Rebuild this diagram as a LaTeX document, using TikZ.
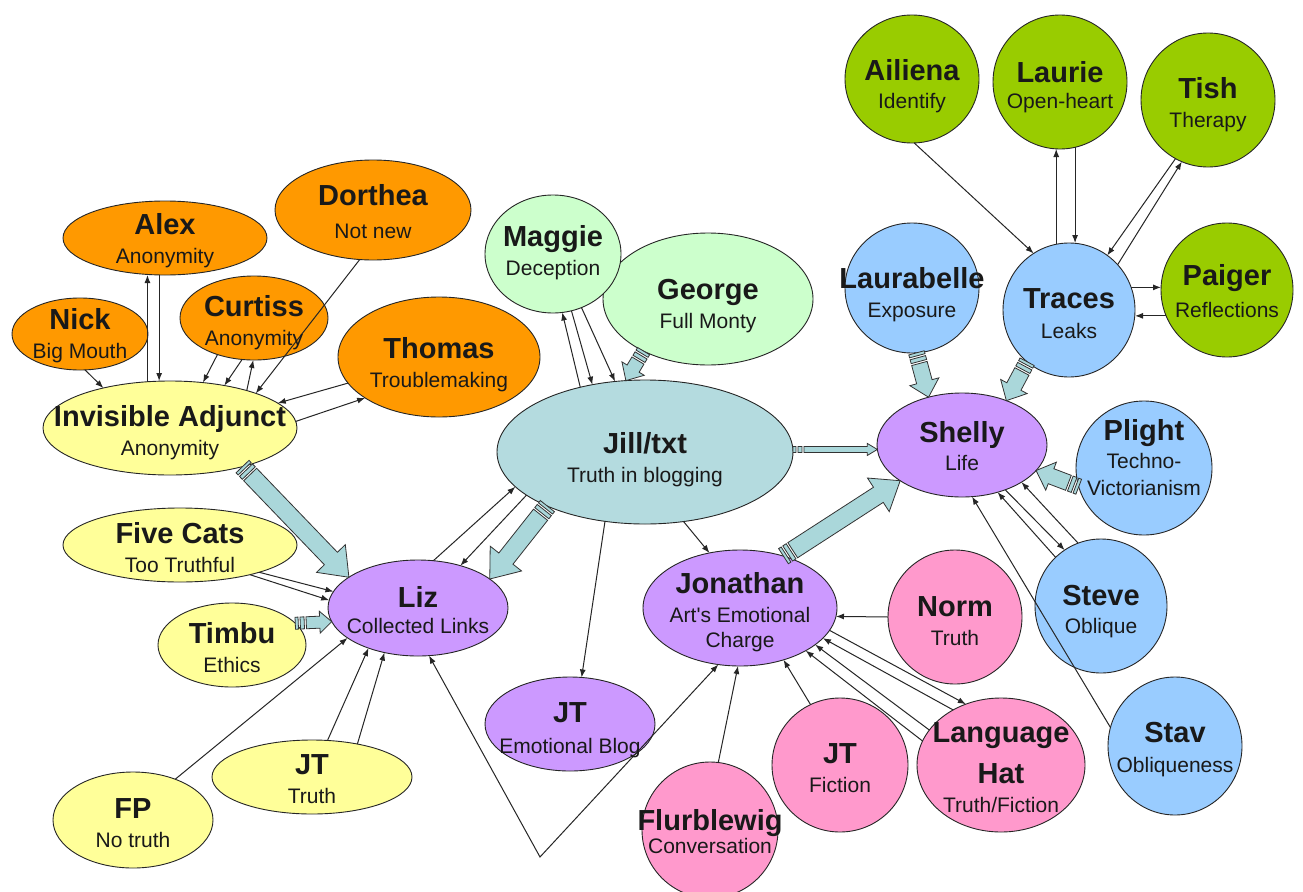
\documentclass[tikz,border=0pt]{standalone}
\usepackage{fontspec}
\setmainfont{Liberation Sans}
\usetikzlibrary{arrows.meta,shapes.geometric,calc}
\definecolor{corange}{RGB}{255,153,0}
\definecolor{cyellow}{RGB}{255,255,153}
\definecolor{clgreen}{RGB}{204,255,204}
\definecolor{cteal}{RGB}{180,219,223}
\definecolor{cpurple}{RGB}{204,153,255}
\definecolor{cpink}{RGB}{255,153,204}
\definecolor{cblue}{RGB}{153,204,255}
\definecolor{cgreen}{RGB}{153,204,0}
\definecolor{carrow}{RGB}{170,215,218}
\tikzset{
  person/.style={ellipse, draw=black!85, line width=0.9pt, inner sep=0pt, outer sep=0pt},
  por/.style={person, fill=corange},
  pye/.style={person, fill=cyellow},
  plg/.style={person, fill=clgreen},
  pte/.style={person, fill=cteal},
  ppu/.style={person, fill=cpurple},
  ppi/.style={person, fill=cpink},
  pbl/.style={person, fill=cblue},
  pgr/.style={person, fill=cgreen},
  txt/.style={align=center, inner sep=0pt, font=\fontsize{21}{29}\selectfont, text=black!90},
  ln/.style={draw=black!85, line width=1pt, -{Latex[length=8pt,width=6pt]}},
  lnb/.style={draw=black!85, line width=1pt, {Latex[length=8pt,width=6pt]}-{Latex[length=8pt,width=6pt]}},
  barrow/.style={fill=carrow, draw=black!80, line width=0.8pt, line join=miter},
}
\newcommand\nm[1]{{\fontsize{29}{29}\selectfont\bfseries #1}}
\newcommand\shp[6]{\node[#2, minimum width=#5*2, minimum height=#6*2] (#1) at (#3,#4) {};}
% #3 = baseline of the LAST line of the text
\newcommand\lbl[4]{\node[txt, anchor=base] (#1-t) at (#2,#3) {#4};}
\newcommand\blockarrow[5]{%
  \path (#1) coordinate (bas) (#2) coordinate (bae);
  \pgfpointdiff{\pgfpointanchor{bas}{center}}{\pgfpointanchor{bae}{center}}%
  \pgfgetlastxy{\bax}{\bay}%
  \pgfmathsetmacro\bang{atan2(\bay,\bax)}%
  \pgfmathsetmacro\blen{veclen(\bax,\bay)}%
  \begin{scope}[shift={(bas)}, rotate=\bang, x=1pt, y=1pt]
    \filldraw[barrow] (0,-#3) rectangle (3,#3);
    \filldraw[barrow] (5,-#3) rectangle (9,#3);
    \filldraw[barrow] (11,-#3) -- (\blen-#5,-#3) -- (\blen-#5,-#4) -- (\blen,0)
      -- (\blen-#5,#4) -- (\blen-#5,#3) -- (11,#3) -- cycle;
  \end{scope}
}
\begin{document}
\begin{tikzpicture}[x=1pt,y=-1pt]
\useasboundingbox (0,0) rectangle (1303,891);
\fill[white] (0,0) rectangle (1303,891);
\clip (0,0) rectangle (1303,891);
% ---------- shapes
\shp{dorthea}{por}{373}{210}{98}{50}
\shp{alex}{por}{165}{238}{102}{37}
\shp{nick}{por}{80}{334}{68}{36}
\shp{curtiss}{por}{254}{318}{74}{42}
\shp{thomas}{por}{439}{357}{101}{60}
\shp{ia}{pye}{170}{428}{127}{47}
\shp{fivecats}{pye}{180}{545}{117}{37}
\shp{timbu}{pye}{232}{645}{74}{42}
\shp{fp}{pye}{133}{820}{80}{48}
\shp{jtt}{pye}{312}{777}{100}{37}
\shp{liz}{ppu}{418}{608}{90}{48}
\shp{george}{plg}{708}{299}{105}{66}
\shp{maggie}{plg}{553}{254}{68}{59}
\shp{jill}{pte}{645}{452}{148}{72}
\shp{jtb}{ppu}{570}{724}{85}{47}
\shp{jon}{ppu}{740}{608}{97}{58}
\shp{flurb}{ppi}{710}{830}{68}{68}
\shp{jtf}{ppi}{840}{765}{68}{67}
\shp{lh}{ppi}{1001}{765}{84}{67}
\shp{norm}{ppi}{955}{617}{67}{67}
\shp{shelly}{ppu}{962}{445}{85}{52}
\shp{plight}{pbl}{1144}{468}{68}{67}
\shp{steve}{pbl}{1101}{606}{66}{67}
\shp{stav}{pbl}{1175}{746}{67}{69}
\shp{laurabelle}{pbl}{912}{288}{67}{65}
\shp{traces}{pbl}{1069}{310}{66}{67}
\shp{ailiena}{pgr}{912}{79}{67}{64}
\shp{laurie}{pgr}{1060}{82}{67}{67}
\shp{tish}{pgr}{1208}{100}{67}{67}
\shp{paiger}{pgr}{1227}{290}{66}{67}
% ---------- connectors: left cluster
\draw[ln] (nick.-82) -- (ia.149);
\draw[ln] (ia.116) -- (ia.116 |- alex.south);
\draw[ln] (alex.-99) -- (alex.-99 |- ia.north);
\draw[ln] (curtiss.-135) -- (ia.54);
\draw[ln] (curtiss.-106) -- (ia.38);
\draw[ln] (ia.26) -- (curtiss.-91);
\draw[ln] (dorthea.-105) -- (ia.22);
\draw[ln] (thomas.-164) -- (ia.13);
\draw[ln] (ia.3) -- (thomas.-151);
\blockarrow{ia.-28}{liz.156}{9}{20}{26}
\draw[ln] (fivecats.-19) -- (liz.169);
\draw[ln] (fivecats.-23) -- (liz.175);
\blockarrow{timbu.19}{liz.-171}{6}{11}{12}
\draw[ln] (fp.44) -- (liz.-157);
\draw[ln] (jtt.67) -- (liz.-141);
\draw[ln] (jtt.36) -- (liz.-127);
\coordinate (apex) at (540,857);
\draw[lnb] (liz.-77) -- (apex) -- (jon.-111);
% Jill/txt
\draw[ln] (liz.72) -- (jill.-165);
\draw[ln] (jill.-160) -- (liz.45);
\blockarrow{jill.-151}{liz.22}{9}{20}{26}
\draw[ln] (jill.135) -- (maggie.-81);
\draw[ln] (maggie.-72) -- (jill.128);
\draw[ln] (maggie.-62) -- (jill.113);
\blockarrow{george.-141}{jill.105}{7}{13}{14}
\blockarrow{jill.1}{shelly.183}{3}{6}{10}
\draw[ln] (jill.-120) -- (jtb.76);
\draw[ln] (jill.-61) -- (jon.119);
\blockarrow{jon.50}{shelly.-150}{9}{20}{26}
% Jonathan
\draw[ln] (flurb.83) -- (jon.-92);
\draw[ln] (jtf.116) -- (jon.-50);
\draw[ln] (norm.180) -- (jon.-5);
\draw[ln] (jon.-14) -- (lh.120);
\draw[ln] (lh.131) -- (jon.-20);
\draw[ln] (lh.154) -- (jon.-26);
\draw[ln] (lh.163) -- (jon.-33);
% Shelly
\blockarrow{laurabelle.-86}{shelly.125}{8}{15}{16}
\blockarrow{traces.-129}{shelly.45}{8}{15}{16}
\blockarrow{plight.-164}{shelly.-19}{8}{15}{16}
\draw[ln] (steve.133) -- (shelly.-53);
\draw[ln] (shelly.-46) -- (steve.123);
\draw[ln] (steve.110) -- (shelly.-32);
\draw[ln] (stav.164) -- (shelly.-79);
% Traces
\draw[ln] (ailiena.-88) -- (traces.122);
\draw[ln] (traces.101) -- (traces.101 |- laurie.south);
\draw[ln] (laurie.-77) -- (laurie.-77 |- traces.north);
\draw[ln] (tish.-119) -- (traces.55);
\draw[ln] (traces.43) -- (tish.-113);
\draw[ln] (traces.20) -- (traces.20 -| paiger.west);
\draw[ln] (paiger.-157) -- (paiger.-157 -| traces.east);
% ---------- texts (y = baseline of last line)
\lbl{dorthea}{373}{238}{\nm{Dorthea}\\[4pt]Not new}
\lbl{alex}{165}{263}{\nm{Alex}\\Anonymity}
\lbl{nick}{80}{358}{\nm{Nick}\\Big Mouth}
\lbl{curtiss}{254}{345}{\nm{Curtiss}\\Anonymity}
\lbl{thomas}{439}{387}{\nm{Thomas}\\Troublemaking}
\lbl{ia}{170}{455}{\nm{Invisible Adjunct}\\Anonymity}
\lbl{fivecats}{180}{572}{\nm{Five Cats}\\Too Truthful}
\lbl{timbu}{232}{672}{\nm{Timbu}\\Ethics}
\lbl{fp}{133}{847}{\nm{FP}\\No truth}
\lbl{jtt}{312}{803}{\nm{JT}\\Truth}
\lbl{liz}{418}{633}{\nm{Liz}\\[-3pt]Collected Links}
\lbl{maggie}{553}{275}{\nm{Maggie}\\Deception}
\lbl{george}{708}{328}{\nm{George}\\Full Monty}
\lbl{jill}{645}{482}{\nm{Jill/txt}\\Truth in blogging}
\lbl{jtb}{570}{753}{\nm{JT}\\[2pt]Emotional Blog}
\lbl{jon}{740}{647}{\nm{Jonathan}\\Art\textquotesingle s Emotional\\[-4pt]Charge}
\lbl{flurb}{710}{853}{\nm{Flurblewig}\\[-6pt]Conversation}
\lbl{jtf}{840}{792}{\nm{JT}\\Fiction}
\lbl{lh}{1001}{812}{\nm{Language}\\[12pt]\nm{Hat}\\Truth/Fiction}
\lbl{norm}{955}{645}{\nm{Norm}\\Truth}
\lbl{shelly}{962}{470}{\nm{Shelly}\\[-1pt]Life}
\lbl{plight}{1144}{495}{\nm{Plight}\\[-1pt]Techno-\\[-2pt]Victorianism}
\lbl{steve}{1101}{633}{\nm{Steve}\\[-1pt]Oblique}
\lbl{stav}{1175}{772}{\nm{Stav}\\[1pt]Obliqueness}
\lbl{laurabelle}{912}{317}{\nm{Laurabelle}\\Exposure}
\lbl{traces}{1069}{338}{\nm{Traces}\\[1pt]Leaks}
\lbl{ailiena}{912}{108}{\nm{Ailiena}\\[-1pt]Identify}
\lbl{laurie}{1060}{108}{\nm{Laurie}\\[-3pt]Open-heart}
\lbl{tish}{1208}{127}{\nm{Tish}\\Therapy}
\lbl{paiger}{1227}{317}{\nm{Paiger}\\[3pt]Reflections}
\end{tikzpicture}
\end{document}
